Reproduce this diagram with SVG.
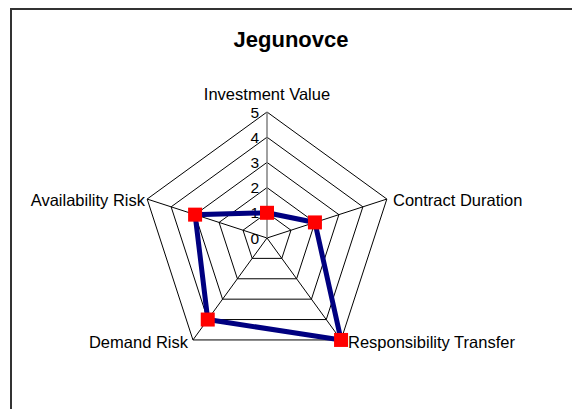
<svg xmlns="http://www.w3.org/2000/svg" width="572" height="409" viewBox="0 0 572 409">
<style>
.grid{fill:none;stroke:#000;stroke-width:1}
.cat{font-family:"Liberation Sans",Arial,sans-serif;font-size:16.5px;fill:#000}
.tick{font-family:"Liberation Sans",Arial,sans-serif;font-size:15.5px;fill:#000;text-anchor:end}
.mk{fill:#ff0000}
</style>
<rect x="0" y="0" width="572" height="409" fill="#fff"/>
<rect id="frame" x="11" y="9" width="620" height="460" fill="none" stroke="#333" stroke-width="2"/>
<text id="title" x="291" y="47" text-anchor="middle" font-family="'Liberation Sans',Arial,sans-serif" font-size="22" font-weight="bold">Jegunovce</text>
<g id="grid">
<polygon class="grid" points="267,212.8 290.97,230.21 281.81,258.39 252.19,258.39 243.03,230.21"/>
<polygon class="grid" points="267,187.6 314.93,222.43 296.62,278.77 237.38,278.77 219.07,222.43"/>
<polygon class="grid" points="267,162.4 338.90,214.64 311.44,299.16 222.56,299.16 195.10,214.64"/>
<polygon class="grid" points="267,137.2 362.87,206.85 326.25,319.55 207.75,319.55 171.13,206.85"/>
<polygon class="grid" points="267,112 386.83,199.06 341.06,339.94 192.94,339.94 147.17,199.06"/>
<line class="grid" x1="267" y1="238" x2="386.83" y2="199.06"/>
<line class="grid" x1="267" y1="238" x2="341.06" y2="339.94"/>
<line class="grid" x1="267" y1="238" x2="192.94" y2="339.94"/>
<line class="grid" x1="267" y1="238" x2="147.17" y2="199.06"/>
<line x1="267" y1="238" x2="267" y2="112" stroke="#808080" stroke-width="1.5"/>
</g>
<g id="ticks">
<text class="tick" x="259" y="243.5">0</text>
<text class="tick" x="259" y="218.3">1</text>
<text class="tick" x="259" y="193.1">2</text>
<text class="tick" x="259" y="167.9">3</text>
<text class="tick" x="259" y="142.7">4</text>
<text class="tick" x="259" y="117.5">5</text>
</g>
<g id="labels">
<text id="investment-value" class="cat" x="267" y="99.5" text-anchor="middle">Investment Value</text>
<text id="contract-duration" class="cat" x="393" y="205.5">Contract Duration</text>
<text id="responsibility-transfer" class="cat" x="348" y="347.5">Responsibility Transfer</text>
<text id="demand-risk" class="cat" x="188" y="347.5" text-anchor="end">Demand Risk</text>
<text id="availability-risk" class="cat" x="145" y="205.5" text-anchor="end">Availability Risk</text>
</g>
<g id="connectors">
<polygon points="267,212.8 314.93,222.43 341.06,339.94 207.75,319.55 195.10,214.64" fill="none" stroke="#000080" stroke-width="5" stroke-linejoin="miter"/>
</g>
<g id="markers">
<rect class="mk" x="260" y="205.8" width="14" height="14"/>
<rect class="mk" x="307.93" y="215.43" width="14" height="14"/>
<rect class="mk" x="334.06" y="332.94" width="14" height="14"/>
<rect class="mk" x="200.75" y="312.55" width="14" height="14"/>
<rect class="mk" x="188.10" y="207.64" width="14" height="14"/>
</g>
</svg>
